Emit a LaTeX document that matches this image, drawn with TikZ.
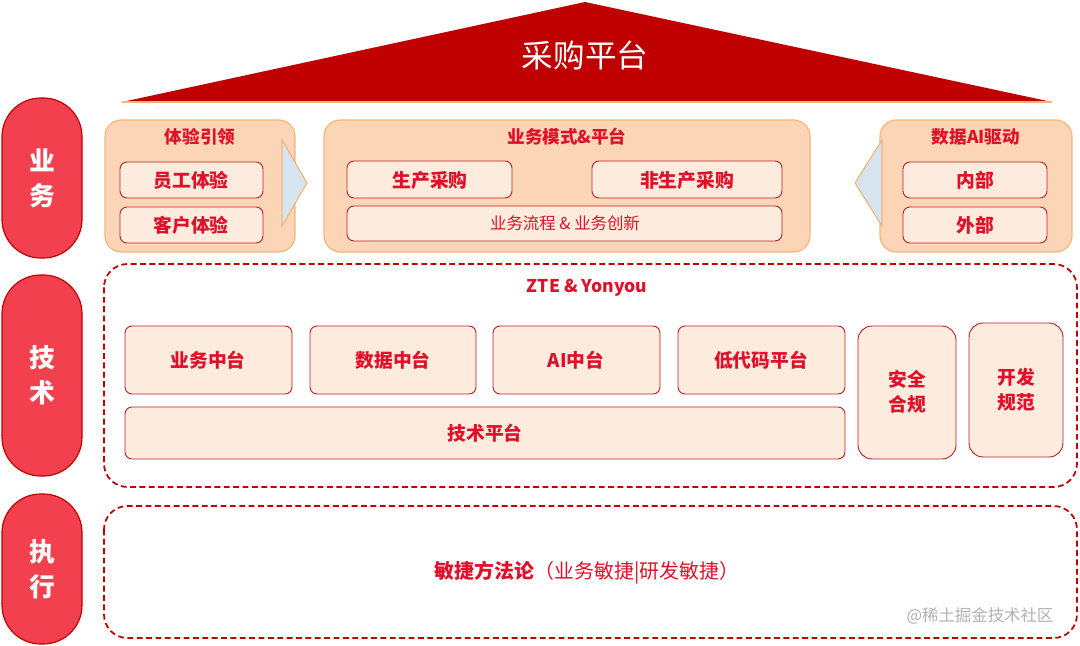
\documentclass[tikz,border=0pt]{standalone}
\usepackage{fontspec}
\setmainfont{Noto Sans CJK SC}
\usetikzlibrary{positioning}
\definecolor{zred}{HTML}{C00000}
\definecolor{pillred}{HTML}{F2404F}
\definecolor{txtred}{HTML}{E0102A}
\definecolor{orfill}{HTML}{FBD5B5}
\definecolor{orline}{HTML}{F5B57A}
\definecolor{cream}{HTML}{FDEBDD}
\definecolor{boxline}{HTML}{B8202A}
\definecolor{arrblue}{HTML}{D6E4F0}
\tikzset{
  pill/.style={draw=zred, fill=pillred, line width=1pt, rounded corners=33pt},
  group/.style={draw=orline, fill=orfill, line width=1pt, rounded corners=14},
  item/.style={draw=boxline, fill=cream, line width=0.8pt, rounded corners=6, text=txtred, font=\fontsize{16}{21}\selectfont\bfseries, inner sep=0pt, align=center},
  label/.style={text=txtred, font=\fontsize{16}{21}\selectfont\bfseries, align=center},
  layer/.style={draw=zred, dash pattern=on 5pt off 3pt, line width=1.5pt, rounded corners=20},
  gtitle/.style={text=txtred, font=\fontsize{15}{20}\selectfont\bfseries},
  side/.style={text=white, font=\fontsize{22}{30}\selectfont\bfseries, align=center},
  wedge/.style={fill=arrblue, draw=orline, line width=1pt},
}
\begin{document}
\begin{tikzpicture}[x=0.03cm, y=-0.03cm]
\useasboundingbox (0,0) rectangle (1080,646);

% roof
\fill[zred] (122,102) -- (585,2) -- (1052,102) -- cycle;
\draw[orline, line width=1pt] (122,102) -- (1052,102);
\node[text=white, font=\fontsize{27}{30}\selectfont] (roof) at (585,55) {采购平台};

% layer labels
\path[pill] (2,98) rectangle (82,258);
\node[side] (lbiz) at (42,178) {业\\务};
\path[pill] (2,275) rectangle (82,476);
\node[side] (ltech) at (42,375) {技\\术};
\path[pill] (2,494) rectangle (82,644);
\node[side] (lexec) at (42,569) {执\\行};

% business layer
\path[group] (105,120) rectangle (295,252);
\node[gtitle] (exp) at (200,137) {体验引领};
\path[item] (120,162) rectangle (263,198);
\node[label] (staff) at (191,180) {员工体验};
\path[item] (120,207) rectangle (263,243);
\node[label] (cust) at (191,225) {客户体验};

\path[group] (324,120) rectangle (810,252);
\node[gtitle] (mode) at (567,137) {业务模式\&平台};
\path[item] (347,161) rectangle (512,198);
\node[label] (prod) at (430,180) {生产采购};
\path[item] (592,161) rectangle (782,198);
\node[label] (nonprod) at (687,180) {非生产采购};
\path[item] (347,206) rectangle (782,241);
\node[text=txtred, font=\fontsize{14}{20}\selectfont] (flow) at (565,223) {业务流程 \& 业务创新};

\path[group] (880,120) rectangle (1072,252);
\node[gtitle] (data) at (976,137) {数据AI驱动};
\path[item] (903,162) rectangle (1047,198);
\node[label] (inner) at (975,180) {内部};
\path[item] (903,207) rectangle (1047,243);
\node[label] (outer) at (975,225) {外部};

\path[wedge] (282,140) -- (307,183) -- (282,226) -- cycle;
\path[wedge] (882,140) -- (855,183) -- (882,226) -- cycle;

% tech layer
\path[layer] (104,264) rectangle (1077,487);
\node[gtitle] (zte) at (587,288) {ZTE \& Yonyou};
\path[item] (125,326) rectangle (292,394);
\node[label] (bizmid) at (208,360) {业务中台};
\path[item] (310,326) rectangle (476,394);
\node[label] (datamid) at (393,360) {数据中台};
\path[item] (493,326) rectangle (660,394);
\node[label] (aimid) at (576,360) {AI中台};
\path[item] (678,326) rectangle (845,394);
\node[label] (lowcode) at (761,360) {低代码平台};
\path[item] (125,407) rectangle (845,459);
\node[label] (techplat) at (485,433) {技术平台};
\path[item, rounded corners=12] (858,326) rectangle (956,459);
\node[label] (secure) at (907,392) {安全\\合规};
\path[item, rounded corners=12] (969,323) rectangle (1063,457);
\node[label] (devspec) at (1016,390) {开发\\规范};

% execution layer
\path[layer] (104,506) rectangle (1077,638);
\node[text=txtred, font=\fontsize{17}{20}\selectfont] (agile) at (587,573) {\textbf{敏捷方法论}（业务敏捷|研发敏捷）};
\node[text=gray!60, font=\fontsize{14}{16}\selectfont] (mark) at (980,616) {@稀土掘金技术社区};
\end{tikzpicture}
\end{document}
